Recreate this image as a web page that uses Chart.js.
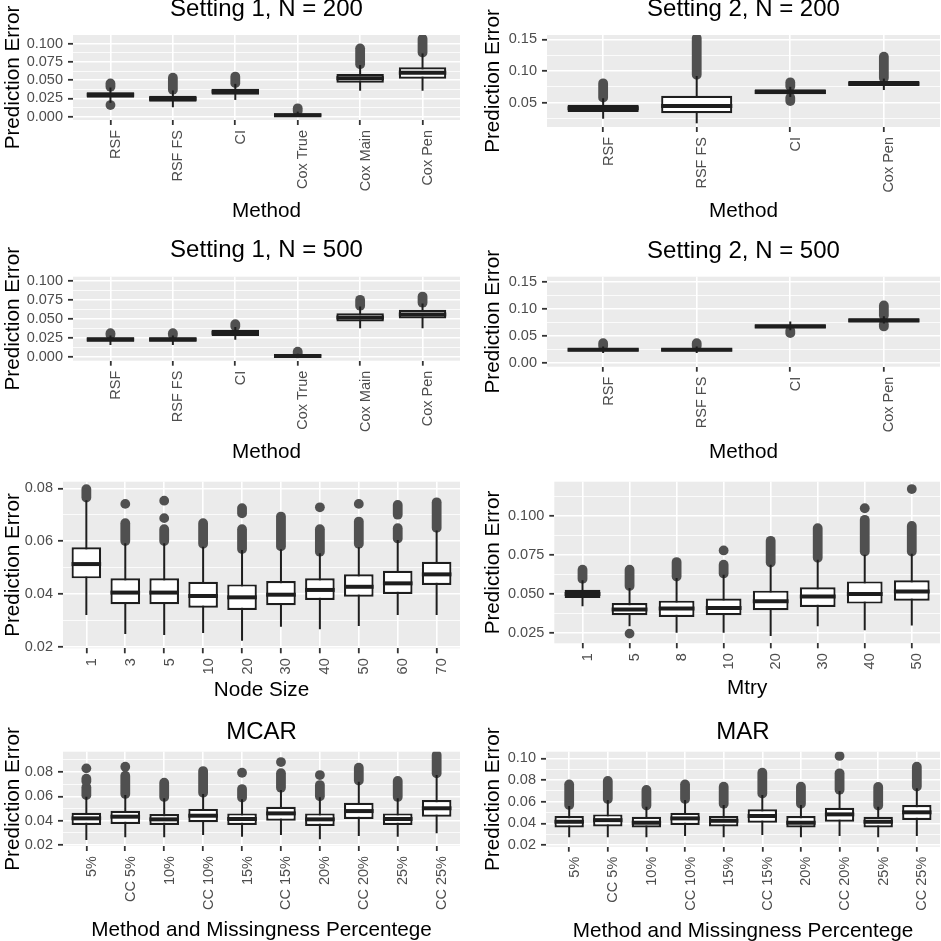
<!DOCTYPE html>
<html>
<head>
<meta charset="utf-8">
<script src="https://cdn.jsdelivr.net/npm/chart.js@4.4.1/dist/chart.umd.min.js"></script>
<style>
  html, body { margin: 0; padding: 0; background: #fff; overflow: hidden; width: 941px; height: 941px; }
  canvas { position: absolute; }
</style>
</head>
<body>
<script>
// ---- data (whisker ends, quartiles, medians, outlier runs) ----

// Setting 1, N = 200
const s1n200Methods = ['RSF', 'RSF FS', 'CI', 'Cox True', 'Cox Main', 'Cox Pen'];
const s1n200Lower = [0.019, 0.013, 0.023, 0.000, 0.0356, 0.0356];
const s1n200Q1 = [0.026, 0.0205, 0.030, 0.000, 0.0466, 0.052];
const s1n200Median = [0.030, 0.0245, 0.0345, 0.002, 0.0526, 0.0603];
const s1n200Q3 = [0.0334, 0.0288, 0.0384, 0.0047, 0.0585, 0.0677];
const s1n200Upper = [0.040, 0.036, 0.045, 0.007, 0.0708, 0.0868];
const s1n200Outliers = [[[0.041, 0.0455], [0.016, 0.016]], [[0.037, 0.0534]], [[0.046, 0.055]], [[0.008, 0.0115]], [[0.072, 0.0937]], [[0.088, 0.107]]];

// Setting 2, N = 200
const s2n200Methods = ['RSF', 'RSF FS', 'CI', 'Cox Pen'];
const s2n200Lower = [0.0248, 0.0175, 0.059, 0.070];
const s2n200Q1 = [0.0353, 0.0333, 0.0632, 0.0763];
const s2n200Median = [0.0412, 0.0448, 0.067, 0.080];
const s2n200Q3 = [0.0468, 0.061, 0.0711, 0.0842];
const s2n200Upper = [0.057, 0.0921, 0.075, 0.088];
const s2n200Outliers = [[[0.058, 0.0806]], [[0.094, 0.152]], [[0.0527, 0.058], [0.076, 0.0822]], [[0.089, 0.1226]]];

// Setting 1, N = 500
const s1n500Methods = ['RSF', 'RSF FS', 'CI', 'Cox True', 'Cox Main', 'Cox Pen'];
const s1n500Lower = [0.0157, 0.0157, 0.0223, 0.000, 0.0376, 0.0376];
const s1n500Q1 = [0.0197, 0.0197, 0.0275, 0.000, 0.0463, 0.0502];
const s1n500Median = [0.0228, 0.0228, 0.0315, 0.001, 0.0515, 0.0555];
const s1n500Q3 = [0.0258, 0.0258, 0.0354, 0.0025, 0.0573, 0.0616];
const s1n500Upper = [0.028, 0.028, 0.039, 0.004, 0.066, 0.070];
const s1n500Outliers = [[[0.029, 0.0311]], [[0.029, 0.0311]], [[0.040, 0.0429]], [[0.0045, 0.0069]], [[0.067, 0.0747]], [[0.071, 0.079]]];

// Setting 2, N = 500
const s2n500Methods = ['RSF', 'RSF FS', 'CI', 'Cox Pen'];
const s2n500Lower = [0.019, 0.019, 0.061, 0.0735];
const s2n500Q1 = [0.0215, 0.0215, 0.0648, 0.0759];
const s2n500Median = [0.025, 0.025, 0.068, 0.079];
const s2n500Q3 = [0.0278, 0.0278, 0.0722, 0.0833];
const s2n500Upper = [0.031, 0.031, 0.077, 0.087];
const s2n500Outliers = [[[0.032, 0.037]], [[0.032, 0.037]], [[0.0556, 0.060]], [[0.068, 0.072], [0.088, 0.1067]]];

// Node size
const nodeSizes = ['1', '3', '5', '10', '20', '30', '40', '50', '60', '70'];
const nodeLower = [0.032, 0.0248, 0.0244, 0.0252, 0.0223, 0.0276, 0.0266, 0.0278, 0.032, 0.032];
const nodeQ1 = [0.0459, 0.0361, 0.0361, 0.0348, 0.0339, 0.0357, 0.0377, 0.0389, 0.040, 0.0434];
const nodeMedian = [0.0513, 0.0405, 0.0405, 0.0392, 0.0387, 0.0397, 0.0415, 0.0427, 0.044, 0.0474];
const nodeQ3 = [0.0577, 0.0459, 0.0459, 0.0446, 0.0436, 0.0449, 0.0459, 0.0474, 0.0488, 0.0522];
const nodeUpper = [0.0755, 0.0592, 0.0592, 0.0579, 0.0566, 0.0569, 0.0554, 0.0577, 0.0604, 0.064];
const nodeOutliers = [
  [[0.0765, 0.0797]],
  [[0.060, 0.0668], [0.0741, 0.0741]],
  [[0.060, 0.0645], [0.0687, 0.0687], [0.0753, 0.0753]],
  [[0.059, 0.0668]],
  [[0.057, 0.0645], [0.0705, 0.0725]],
  [[0.058, 0.0693]],
  [[0.056, 0.0645], [0.0728, 0.0728]],
  [[0.059, 0.0674], [0.0741, 0.0741]],
  [[0.061, 0.0649], [0.070, 0.0737]],
  [[0.065, 0.0747]]
];

// Mtry
const mtryValues = ['1', '5', '8', '10', '20', '30', '40', '50'];
const mtryLower = [0.042, 0.0292, 0.025, 0.025, 0.0229, 0.0292, 0.0267, 0.0297];
const mtryQ1 = [0.0473, 0.0362, 0.0352, 0.0362, 0.0394, 0.0416, 0.0437, 0.0456];
const mtryMedian = [0.0498, 0.0399, 0.0405, 0.0409, 0.0452, 0.0483, 0.0499, 0.0515];
const mtryQ3 = [0.0526, 0.0441, 0.0456, 0.0469, 0.052, 0.0541, 0.0579, 0.0586];
const mtryUpper = [0.0586, 0.0537, 0.0601, 0.0622, 0.0686, 0.0717, 0.075, 0.0756];
const mtryOutliers = [
  [[0.0595, 0.0654]],
  [[0.055, 0.0654], [0.0245, 0.0245]],
  [[0.061, 0.0703]],
  [[0.063, 0.0686], [0.0777, 0.0777]],
  [[0.070, 0.0839]],
  [[0.073, 0.092]],
  [[0.077, 0.0973], [0.1047, 0.1047]],
  [[0.077, 0.0934], [0.117, 0.117]]
];

// MCAR
const missCats = ['5%', 'CC 5%', '10%', 'CC 10%', '15%', 'CC 15%', '20%', 'CC 20%', '25%', 'CC 25%'];
const mcarLower = [0.0241, 0.0263, 0.0263, 0.0282, 0.0268, 0.0282, 0.0247, 0.0274, 0.0268, 0.0296];
const mcarQ1 = [0.0364, 0.0373, 0.0364, 0.0387, 0.0364, 0.040, 0.0356, 0.0414, 0.0364, 0.0433];
const mcarMedian = [0.0419, 0.0433, 0.0411, 0.0441, 0.0414, 0.046, 0.0411, 0.0479, 0.0414, 0.0502];
const mcarQ3 = [0.0465, 0.0482, 0.0455, 0.0498, 0.046, 0.0515, 0.046, 0.0548, 0.046, 0.057];
const mcarUpper = [0.0597, 0.0611, 0.0584, 0.0619, 0.0576, 0.0652, 0.0592, 0.072, 0.0584, 0.0775];
const mcarOutliers = [
  [[0.061, 0.0675], [0.0725, 0.0745], [0.083, 0.083]],
  [[0.062, 0.077], [0.0844, 0.0844]],
  [[0.0595, 0.0712]],
  [[0.063, 0.0808]],
  [[0.059, 0.066], [0.0794, 0.0794]],
  [[0.067, 0.079], [0.0882, 0.0882]],
  [[0.060, 0.0693], [0.0775, 0.0775]],
  [[0.073, 0.0835]],
  [[0.0595, 0.0726]],
  [[0.079, 0.094]]
];

// MAR
const marLower = [0.0271, 0.0271, 0.0271, 0.0283, 0.0271, 0.0292, 0.0271, 0.0283, 0.0271, 0.0283];
const marQ1 = [0.0363, 0.0372, 0.0363, 0.0385, 0.0372, 0.0406, 0.0363, 0.0415, 0.0363, 0.0431];
const marMedian = [0.0415, 0.043, 0.0406, 0.0446, 0.0424, 0.0468, 0.0406, 0.0483, 0.0415, 0.0502];
const marQ3 = [0.0468, 0.0483, 0.0461, 0.0498, 0.0468, 0.053, 0.0468, 0.0544, 0.0461, 0.0569];
const marUpper = [0.056, 0.0615, 0.0554, 0.0615, 0.0569, 0.0662, 0.0569, 0.0698, 0.0554, 0.0723];
const marOutliers = [
  [[0.057, 0.076]],
  [[0.0625, 0.0791]],
  [[0.0565, 0.0708]],
  [[0.0625, 0.076]],
  [[0.058, 0.0738]],
  [[0.0675, 0.0868]],
  [[0.058, 0.0738]],
  [[0.071, 0.0862], [0.1022, 0.1022]],
  [[0.0565, 0.0736]],
  [[0.074, 0.0923]]
];

// y ticks and limits
const ticksS1 = [0, 0.025, 0.05, 0.075, 0.1];
const ticksS1Labels = ['0.000', '0.025', '0.050', '0.075', '0.100'];
const ticksS2n200 = [0.05, 0.10, 0.15];
const ticksS2n200Labels = ['0.05', '0.10', '0.15'];
const ticksS2n500 = [0, 0.05, 0.10, 0.15];
const ticksS2n500Labels = ['0.00', '0.05', '0.10', '0.15'];
const ticksNode = [0.02, 0.04, 0.06, 0.08];
const ticksNodeLabels = ['0.02', '0.04', '0.06', '0.08'];
const ticksMtry = [0.025, 0.05, 0.075, 0.1];
const ticksMtryLabels = ['0.025', '0.050', '0.075', '0.100'];
const ticksMar = [0.02, 0.04, 0.06, 0.08, 0.10];
const ticksMarLabels = ['0.02', '0.04', '0.06', '0.08', '0.10'];

const s1n200Range = [-0.0045, 0.112];
const s2n200Range = [0.0117, 0.1568];
const s1n500Range = [-0.005, 0.105];
const s2n500Range = [-0.0065, 0.160];
const nodeRange = [0.0194, 0.0825];
const mtryRange = [0.0183, 0.1217];
const mcarRange = [0.0192, 0.0967];
const marRange = [0.0185, 0.1061];

// ---- panels ----
const FONT = "'Liberation Sans', Arial, Helvetica, sans-serif";
Chart.defaults.font.family = FONT;

const panels = [
  { title: 'Setting 1, N = 200', xTitle: 'Method', cats: s1n200Methods, lower: s1n200Lower, q1: s1n200Q1, med: s1n200Median, q3: s1n200Q3, upper: s1n200Upper, out: s1n200Outliers,
    range: s1n200Range, ticks: ticksS1, tickLabels: ticksS1Labels,
    cellLeft: 0, cellTop: 0, area: { l: 73, r: 460, t: 35, b: 120 }, titleBase: 17.3, xBase: 218.3 },
  { title: 'Setting 2, N = 200', xTitle: 'Method', cats: s2n200Methods, lower: s2n200Lower, q1: s2n200Q1, med: s2n200Median, q3: s2n200Q3, upper: s2n200Upper, out: s2n200Outliers,
    range: s2n200Range, ticks: ticksS2n200, tickLabels: ticksS2n200Labels,
    cellLeft: 470, cellTop: 0, area: { l: 547, r: 940, t: 35, b: 127 }, titleBase: 17.3, xBase: 218.3 },
  { title: 'Setting 1, N = 500', xTitle: 'Method', cats: s1n500Methods, lower: s1n500Lower, q1: s1n500Q1, med: s1n500Median, q3: s1n500Q3, upper: s1n500Upper, out: s1n500Outliers,
    range: s1n500Range, ticks: ticksS1, tickLabels: ticksS1Labels,
    cellLeft: 0, cellTop: 230, area: { l: 73, r: 460, t: 276.7, b: 360.7 }, titleBase: 259, xBase: 459.3 },
  { title: 'Setting 2, N = 500', xTitle: 'Method', cats: s2n500Methods, lower: s2n500Lower, q1: s2n500Q1, med: s2n500Median, q3: s2n500Q3, upper: s2n500Upper, out: s2n500Outliers,
    range: s2n500Range, ticks: ticksS2n500, tickLabels: ticksS2n500Labels,
    cellLeft: 470, cellTop: 230, area: { l: 547, r: 940, t: 276.7, b: 366.7 }, titleBase: 259.3, xBase: 459.3 },
  { title: null, xTitle: 'Node Size', cats: nodeSizes, lower: nodeLower, q1: nodeQ1, med: nodeMedian, q3: nodeQ3, upper: nodeUpper, out: nodeOutliers,
    range: nodeRange, ticks: ticksNode, tickLabels: ticksNodeLabels,
    cellLeft: 0, cellTop: 460, area: { l: 63, r: 460, t: 481.7, b: 648.3 }, titleBase: null, xBase: 698 },
  { title: null, xTitle: 'Mtry', cats: mtryValues, lower: mtryLower, q1: mtryQ1, med: mtryMedian, q3: mtryQ3, upper: mtryUpper, out: mtryOutliers,
    range: mtryRange, ticks: ticksMtry, tickLabels: ticksMtryLabels,
    cellLeft: 470, cellTop: 460, area: { l: 554.3, r: 940, t: 481.7, b: 643.3 }, titleBase: null, xBase: 696 },
  { title: 'MCAR', xTitle: 'Method and Missingness Percentege', cats: missCats, lower: mcarLower, q1: mcarQ1, med: mcarMedian, q3: mcarQ3, upper: mcarUpper, out: mcarOutliers,
    range: mcarRange, ticks: ticksNode, tickLabels: ticksNodeLabels,
    cellLeft: 0, cellTop: 700, area: { l: 63, r: 460, t: 751.7, b: 846 }, titleBase: 740.5, xBase: 937.6 },
  { title: 'MAR', xTitle: 'Method and Missingness Percentege', cats: missCats, lower: marLower, q1: marQ1, med: marMedian, q3: marQ3, upper: marUpper, out: marOutliers,
    range: marRange, ticks: ticksMar, tickLabels: ticksMarLabels,
    cellLeft: 470, cellTop: 700, area: { l: 546, r: 940, t: 751.7, b: 846.7 }, titleBase: 740.5, xBase: 938.3 }
];

const TITLE_SIZE = 24;
const AXIS_TITLE_SIZE = 20.7;
const TICK_SIZE = 14.5;
const R = 4.9; // outlier radius
const INK = '#1e1e1e';

// draws panel background, outliers, whiskers, medians and the y title
function makeLayer(p, yTitleX) {
  return {
    id: 'boxLayer',
    beforeDraw(chart) {
      const a = chart.chartArea, ctx = chart.ctx;
      ctx.save();
      ctx.fillStyle = '#ebebeb';
      ctx.fillRect(a.left, a.top, a.right - a.left, a.bottom - a.top);
      ctx.restore();
    },
    beforeDatasetsDraw(chart) {
      const a = chart.chartArea, ctx = chart.ctx;
      const xs = chart.scales.x, ys = chart.scales.y;
      ctx.save();
      ctx.beginPath();
      ctx.rect(a.left, a.top, a.right - a.left, a.bottom - a.top);
      ctx.clip();
      ctx.fillStyle = '#505050';
      p.out.forEach((runs, i) => {
        const px = xs.getPixelForValue(i);
        runs.forEach(([lo, hi]) => {
          const yt = ys.getPixelForValue(hi), yb = ys.getPixelForValue(lo);
          ctx.beginPath();
          ctx.arc(px, yt, R, Math.PI, 0);
          ctx.lineTo(px + R, yb);
          ctx.arc(px, yb, R, 0, Math.PI);
          ctx.closePath();
          ctx.fill();
        });
      });
      ctx.strokeStyle = INK;
      ctx.lineWidth = 2;
      p.lower.forEach((lo, i) => {
        const px = xs.getPixelForValue(i);
        ctx.beginPath();
        ctx.moveTo(px, ys.getPixelForValue(lo));
        ctx.lineTo(px, ys.getPixelForValue(p.upper[i]));
        ctx.stroke();
      });
      ctx.restore();
    },
    afterDatasetsDraw(chart) {
      const ctx = chart.ctx, ys = chart.scales.y;
      const bars = chart.getDatasetMeta(0).data;
      ctx.save();
      ctx.strokeStyle = INK;
      ctx.lineWidth = 4;
      p.med.forEach((m, i) => {
        const b = bars[i];
        const yy = ys.getPixelForValue(m);
        ctx.beginPath();
        ctx.moveTo(b.x - b.width / 2, yy);
        ctx.lineTo(b.x + b.width / 2, yy);
        ctx.stroke();
      });
      ctx.restore();
    },
    afterDraw(chart) {
      const a = chart.chartArea, ctx = chart.ctx;
      ctx.save();
      ctx.translate(yTitleX, (a.top + a.bottom) / 2);
      ctx.rotate(-Math.PI / 2);
      ctx.font = AXIS_TITLE_SIZE + 'px ' + FONT;
      ctx.fillStyle = '#000000';
      ctx.textAlign = 'center';
      ctx.textBaseline = 'alphabetic';
      ctx.fillText('Prediction Error', 0, 0);
      ctx.restore();
    }
  };
}

panels.forEach(p => {
  const cl = p.cellLeft;
  const ct = Math.round(p.title ? p.titleBase - 22.7 : p.cellTop);
  const cr = Math.round(p.area.r);
  const cb = Math.round(p.xBase + 5.2);
  const cv = document.createElement('canvas');
  cv.width = cr - cl;
  cv.height = cb - ct;
  cv.style.left = cl + 'px';
  cv.style.top = ct + 'px';
  document.body.appendChild(cv);

  const yW = p.area.l - cl;
  const xH = cb - p.area.b;
  const yTitleX = (cl === 0 ? 19 : 499) - cl;

  // major ticks plus white minor gridlines halfway between
  const step = p.ticks[1] - p.ticks[0];
  const minor = [p.ticks[0] - step / 2].concat(p.ticks.map(t => t + step / 2))
    .filter(v => v > p.range[0] && v < p.range[1]);
  const allTicks = p.ticks.concat(minor).sort((a, b) => a - b);
  const majorIndex = v => p.ticks.findIndex(t => Math.abs(t - v) < 1e-9);

  new Chart(cv, {
    type: 'bar',
    data: {
      datasets: [{
        data: p.q1.map((v, i) => ({ x: i, y: [v, p.q3[i]] })),
        backgroundColor: '#ffffff',
        borderColor: INK,
        borderWidth: 2.2,
        borderSkipped: false,
        categoryPercentage: 1,
        barPercentage: 0.76
      }]
    },
    options: {
      responsive: false,
      animation: false,
      events: [],
      layout: { padding: { top: p.title ? 0 : p.area.t - ct, left: 0, right: 0, bottom: 0 } },
      plugins: {
        legend: { display: false },
        tooltip: { enabled: false },
        title: p.title ? {
          display: true, text: p.title, fullSize: false, color: '#000000',
          font: { size: TITLE_SIZE, lineHeight: 1.2, weight: 'normal' },
          padding: { top: 0, bottom: p.area.t - ct - TITLE_SIZE * 1.2 }
        } : { display: false }
      },
      scales: {
        x: {
          type: 'linear', offset: false,
          min: -0.6, max: p.cats.length - 0.4,
          afterBuildTicks: s => { s.ticks = p.cats.map((c, i) => ({ value: i })); },
          afterFit: s => { s.height = xH; },
          ticks: {
            autoSkip: false, minRotation: 90, maxRotation: 90, padding: 5, labelOffset: 5.5,
            color: '#4d4d4d', font: { size: TICK_SIZE },
            callback: v => p.cats[v]
          },
          grid: { color: '#ffffff', lineWidth: 1.6, tickColor: '#333333', tickWidth: 1.8, tickLength: 5, offset: false },
          border: { display: false },
          title: { display: true, text: p.xTitle, color: '#000000', font: { size: AXIS_TITLE_SIZE, lineHeight: 1.2 }, padding: { top: 0, bottom: 0 } }
        },
        y: {
          type: 'linear', min: p.range[0], max: p.range[1], bounds: 'data',
          afterBuildTicks: s => { s.ticks = allTicks.map(v => ({ value: v })); },
          afterFit: s => { s.width = yW; },
          ticks: {
            autoSkip: false, padding: 5, color: '#4d4d4d', font: { size: TICK_SIZE },
            callback: v => { const k = majorIndex(v); return k < 0 ? '' : p.tickLabels[k]; }
          },
          grid: {
            color: '#ffffff',
            lineWidth: c => (c.tick && majorIndex(c.tick.value) >= 0 ? 1.6 : 0.8),
            tickColor: c => (c.tick && majorIndex(c.tick.value) >= 0 ? '#333333' : 'rgba(0,0,0,0)'),
            tickWidth: 1.8, tickLength: 5
          },
          border: { display: false }
        }
      }
    },
    plugins: [makeLayer(p, yTitleX)]
  });
});
</script>
</body>
</html>
